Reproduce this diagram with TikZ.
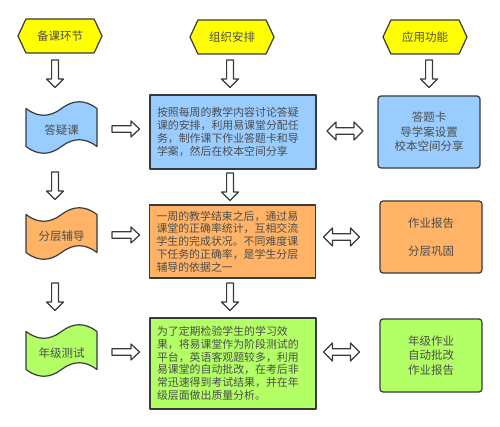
\documentclass[tikz,border=0pt]{standalone}
\usepackage{fontspec}
\setmainfont{Noto Sans CJK SC}
\usetikzlibrary{shapes.symbols}
\definecolor{hexy}{HTML}{FFFF00}
\definecolor{cblue}{HTML}{99CCFF}
\definecolor{corange}{HTML}{FFB366}
\definecolor{cgreen}{HTML}{B3FF66}
\definecolor{edgec}{HTML}{36393D}
\definecolor{txt}{HTML}{4D4D4D}
\tikzset{
  outline/.style={draw=edgec, line width=1.2pt, line join=round},
  hexa/.style={outline, signal, signal to=west and east, signal pointer angle=130,
    fill=hexy, minimum width=84pt, minimum height=34pt, inner sep=0pt,
    text=txt, font=\fontsize{11.5}{14}\selectfont},
  tapetext/.style={inner sep=0pt, text=txt, font=\fontsize{11.5}{14}\selectfont},
  midbox/.style={outline, rectangle, text width=152pt, inner xsep=7pt, inner ysep=0pt,
    align=left, text=txt, font=\fontsize{10.9}{12.7}\selectfont},
  rightbox/.style={outline, rectangle, rounded corners=3pt, minimum width=102pt,
    inner sep=0pt, align=center, text=txt, font=\fontsize{11.5}{14.5}\selectfont},
  pics/downarr/.style={code={
    \draw[outline, fill=white] (-3.4,0) -- (-3.4,19) -- (-8.5,19) -- (0,27.5)
      -- (8.5,19) -- (3.4,19) -- (3.4,0) -- cycle;}},
  pics/rightarr/.style={code={
    \draw[outline, fill=white] (0,-3.2) -- (19,-3.2) -- (19,-8) -- (27.5,0)
      -- (19,8) -- (19,3.2) -- (0,3.2) -- cycle;}},
  pics/dblarr/.style={code={
    \draw[outline, fill=white] (-18,0) -- (-9,-9) -- (-9,-3.2) -- (9,-3.2) -- (9,-9)
      -- (18,0) -- (9,9) -- (9,3.2) -- (-9,3.2) -- (-9,9) -- cycle;}},
  pics/tape/.style={code={
    \draw[outline, fill=#1] (0,7.5) .. controls (11.83,16.5) and (23.67,16.5) .. (35.5,7.5)
      .. controls (47.33,-1.5) and (59.17,-1.5) .. (71,7.5) -- (71,45.5)
      .. controls (59.17,36.5) and (47.33,36.5) .. (35.5,45.5)
      .. controls (23.67,54.5) and (11.83,54.5) .. (0,45.5) -- cycle;}}
}
\begin{document}
\begin{tikzpicture}[x=1pt, y=-1pt]
\useasboundingbox[fill=white] (0,0) rectangle (500,427);

% header hexagons
\node[hexa] (h1) at (60,36) {备课环节};
\node[hexa] (h2) at (232,37) {组织安排};
\node[hexa] (h3) at (425,37) {应用功能};

% tape shapes
\pic at (26,101) {tape=cblue};
\pic at (26,207) {tape=corange};
\pic at (26,324) {tape=cgreen};
\node[tapetext] (s1) at (61.5,130) {答疑课};
\node[tapetext] (s2) at (61.5,236) {分层辅导};
\node[tapetext] (s3) at (61.5,353) {年级测试};

% middle boxes
\node[midbox, fill=cblue, minimum height=74pt] (m1) at (233,132)
  {按照每周的教学内容讨论答疑\\课的安排，利用易课堂分配任\\务，制作课下作业答题卡和导\\学案，然后在校本空间分享};
\node[midbox, fill=corange, minimum height=73pt] (m2) at (232.5,241.5)
  {一周的教学结束之后，通过易\\课堂的正确率统计，互相交流\\学生的完成状况。不同难度课\\下任务的正确率，是学生分层\\辅导的依据之一};
\node[midbox, fill=cgreen, minimum height=91pt] (m3) at (233,363.5)
  {为了定期检验学生的学习效\\果，将易课堂作为阶段测试的\\平台，英语客观题较多，利用\\易课堂的自动批改，在考后非\\常迅速得到考试结果，并在年\\级层面做出质量分析。};

% right boxes
\node[rightbox, fill=cblue, minimum height=72pt] (r1) at (429,132)
  {答题卡\\导学案设置\\校本空间分享};
\node[rightbox, fill=corange, minimum height=72pt, font=\fontsize{11.5}{14}\selectfont] (r2) at (431,237)
  {作业报告\\[14pt]分层巩固};
\node[rightbox, fill=cgreen, minimum height=73pt] (r3) at (431,355.5)
  {年级作业\\自动批改\\作业报告};

% down arrows
\pic at (55,60) {downarr};
\pic at (230,60) {downarr};
\pic at (429,60) {downarr};
\pic at (55,172) {downarr};
\pic at (230,173) {downarr};
\pic at (55,283) {downarr};
\pic at (230,283) {downarr};

% right arrows
\pic at (112,129) {rightarr};
\pic at (112,235) {rightarr};
\pic at (112,352) {rightarr};

% double arrows
\pic at (345,131) {dblarr};
\pic at (341.5,237) {dblarr};
\pic at (341.5,352) {dblarr};
\end{tikzpicture}
\end{document}
